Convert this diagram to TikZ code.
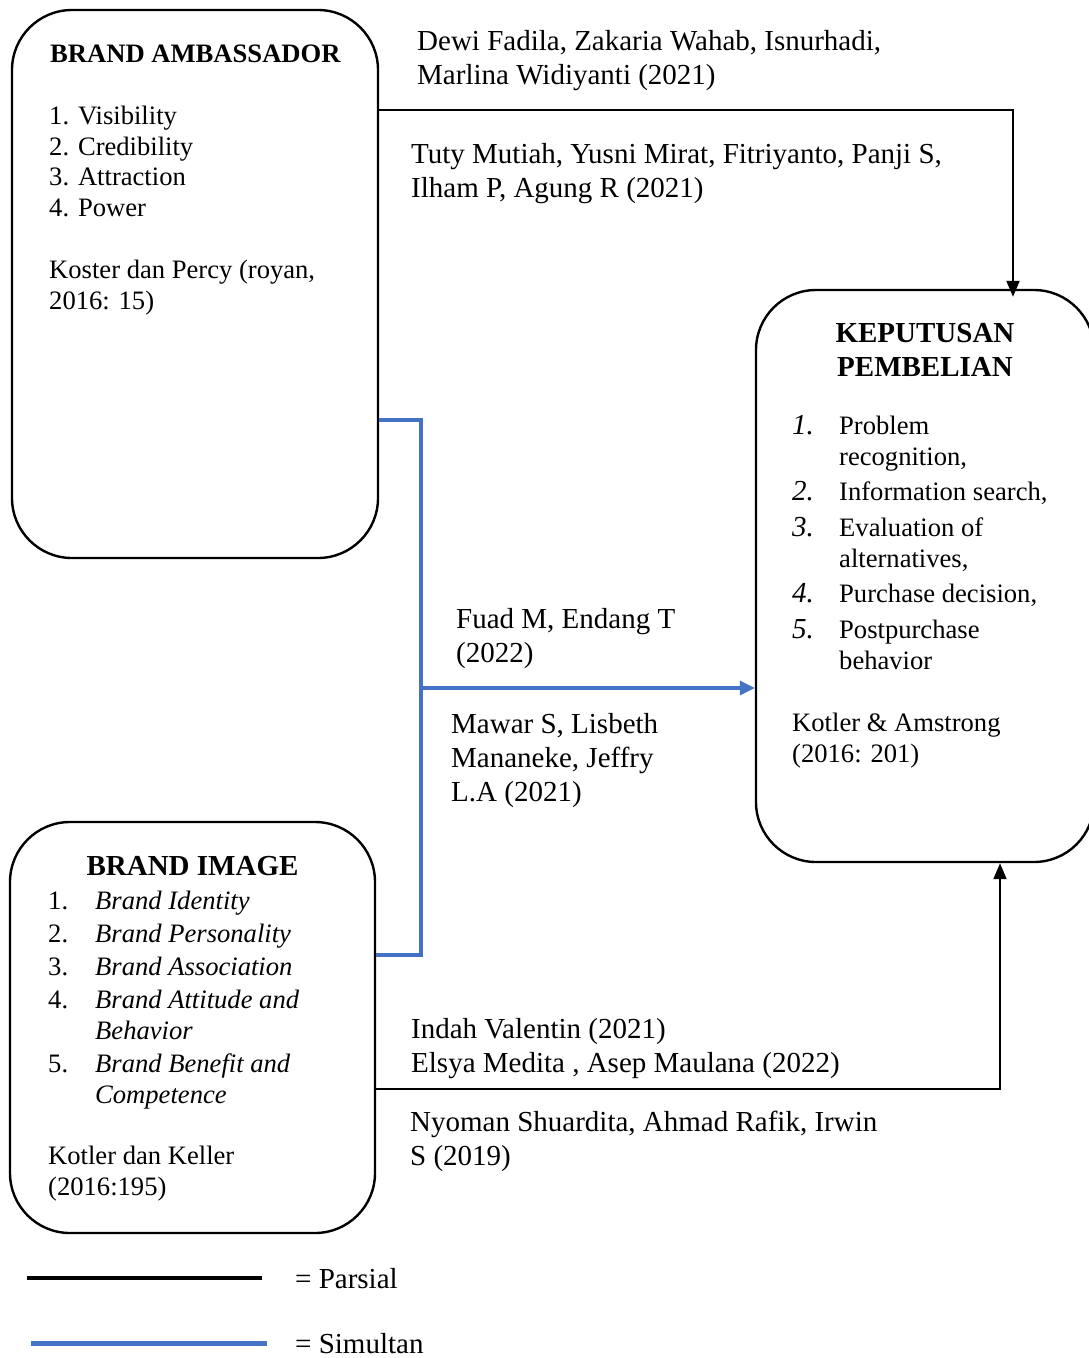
\documentclass[tikz,border=0pt]{standalone}
\usepackage{fontspec}
\setmainfont{Liberation Serif}
\usetikzlibrary{positioning, arrows.meta, calc}

\definecolor{simblue}{HTML}{4472C4}

% number columns of the two lists
\newcommand{\knum}[1]{\makebox[47pt][l]{\fontsize{29}{30.9}\selectfont\itshape #1}}
\newcommand{\inum}[1]{\makebox[47pt][l]{#1}}

\begin{document}
\begin{tikzpicture}[
		x=1pt, y=-1pt,
		% Variable boxes (large rounded corners)
		varbox/.style={
				rectangle, rounded corners=60pt, draw=black, line width=2.4pt,
				fill=white, inner sep=0pt
			},
		% Text blocks
		bigtxt/.style={anchor=north west, inner sep=0pt, align=left, font=\fontsize{29}{34}\selectfont},
		smalltxt/.style={anchor=north west, inner sep=0pt, align=left, font=\fontsize{26.6}{30.6}\selectfont},
		% Connectors
		parsial/.style={draw=black, line width=2pt, -{Triangle[length=16pt, width=13pt]}},
		simultan/.style={draw=simblue, line width=3.3pt, -{Triangle[length=15pt, width=14pt]}}
	]

	\fill[white] (0,0) rectangle (1088,1358);
	\useasboundingbox (0,0) rectangle (1088,1358);

	% ==========================================
	% 1. VARIABLE BOXES
	% ==========================================

	% Brand Ambassador (top left)
	\node[varbox, minimum width=366pt, minimum height=548pt] (ambassador) at (195, 284) {};
	\node[smalltxt, font=\fontsize{26.6}{30.6}\selectfont\bfseries] (ambtitle) at (50, 45) {BRAND AMBASSADOR};
	\node[smalltxt] (amblist) at (49, 106) {1. Visibility\\2. Credibility\\3. Attraction\\4. Power};
	\node[smalltxt] (ambsrc) at (49, 260) {Koster dan Percy (royan,\\2016: 15)};

	% Brand Image (bottom left)
	\node[varbox, minimum width=365pt, minimum height=411pt] (image) at (192.5, 1027.5) {};
	\node[bigtxt, anchor=north, font=\fontsize{29}{34}\selectfont\bfseries] (imgtitle) at (192.5, 856) {BRAND IMAGE};
	\node[smalltxt, font=\fontsize{26.6}{31}\selectfont] (imglist) at (48, 891) {%
		\inum{1.}\textit{Brand Identity}\\[2pt]
		\inum{2.}\textit{Brand Personality}\\[2pt]
		\inum{3.}\textit{Brand Association}\\[2pt]
		\inum{4.}\textit{Brand Attitude and}\\
		\hspace*{47pt}\textit{Behavior}\\[2pt]
		\inum{5.}\textit{Brand Benefit and}\\
		\hspace*{47pt}\textit{Competence}};
	\node[smalltxt] (imgsrc) at (48, 1146) {Kotler dan Keller\\(2016:195)};

	% Keputusan Pembelian (right, runs past the page edge)
	\node[varbox, minimum width=338pt, minimum height=572pt] (keputusan) at (925, 576) {};
	\node[bigtxt, anchor=north, align=center, font=\fontsize{29}{34}\selectfont\bfseries] (keptitle) at (925, 323) {KEPUTUSAN\\PEMBELIAN};
	\node[smalltxt, font=\fontsize{26.6}{30.9}\selectfont] (keplist) at (792, 415) {%
		\knum{1.}Problem\\
		\hspace*{47pt}recognition,\\[4.6pt]
		\knum{2.}Information search,\\[4.6pt]
		\knum{3.}Evaluation of\\
		\hspace*{47pt}alternatives,\\[4.6pt]
		\knum{4.}Purchase decision,\\[4.6pt]
		\knum{5.}Postpurchase\\
		\hspace*{47pt}behavior};
	\node[smalltxt] (kepsrc) at (792, 713) {Kotler \& Amstrong\\(2016: 201)};


	% ==========================================
	% 2. CONNECTORS
	% ==========================================

	\coordinate (partop) at (1013, 110);
	\coordinate (parbot) at (1000, 1089);
	\coordinate (simtop) at (421, 420);
	\coordinate (simmid) at (421, 688);
	\coordinate (simbot) at (421, 955);

	% Partial: Brand Ambassador -> Keputusan (tip reaches into the box)
	\draw[parsial] (ambassador.east |- partop) -- (partop) -- ([yshift=-8pt]keputusan.north -| partop);

	% Simultaneous: both variables -> Keputusan
	\draw[simultan, -] (ambassador.east |- simtop) -- (simtop) -- (simbot) -- (image.east |- simbot);
	\draw[simultan] (simmid) -- (keputusan.west |- simmid);

	% Partial: Brand Image -> Keputusan
	\draw[parsial] (image.east |- parbot) -- (parbot) -- (keputusan.south -| parbot);


	% ==========================================
	% 3. REFERENCE LABELS
	% ==========================================

	\node[bigtxt] (refdewi) at (417, 30) {Dewi Fadila, Zakaria Wahab, Isnurhadi,\\Marlina Widiyanti (2021)};
	\node[bigtxt] (reftuty) at (411, 143) {Tuty Mutiah, Yusni Mirat, Fitriyanto, Panji S,\\Ilham P, Agung R (2021)};
	\node[bigtxt] (reffuad) at (456, 608) {Fuad M, Endang T\\(2022)};
	\node[bigtxt] (refmawar) at (451, 713) {Mawar S, Lisbeth\\Mananeke, Jeffry\\L.A (2021)};
	\node[bigtxt] (refindah) at (411, 1018) {Indah Valentin (2021)\\Elsya Medita , Asep Maulana (2022)};
	\node[bigtxt] (refnyoman) at (410, 1111) {Nyoman Shuardita, Ahmad Rafik, Irwin\\S (2019)};


	% ==========================================
	% 4. LEGEND
	% ==========================================

	\node[bigtxt] (legpar) at (295, 1268) {= Parsial};
	\node[bigtxt] (legsim) at (295, 1333) {= Simultan};
	\draw[black, line width=4pt] (27, 1278) -- (262, 1278);
	\draw[simblue, line width=5pt] (31, 1343) -- (267, 1343);

\end{tikzpicture}
\end{document}
